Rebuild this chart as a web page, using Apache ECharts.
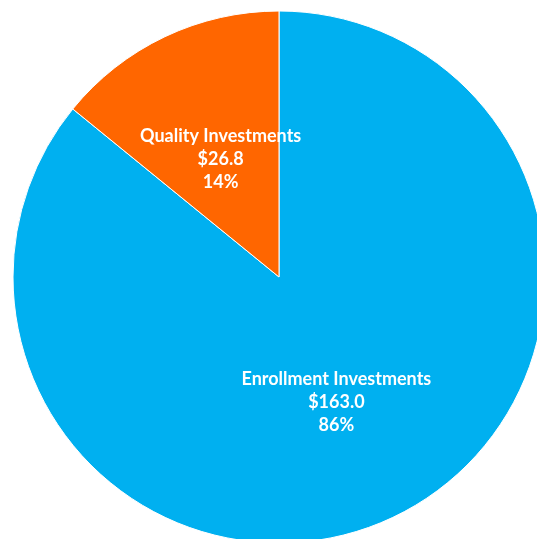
<!DOCTYPE html>
<html><head><meta charset="utf-8">
<script src="https://cdn.jsdelivr.net/npm/echarts@6/dist/echarts.min.js"></script>
<style>html,body{margin:0;padding:0;background:#fff}#c{width:537px;height:539px}</style>
</head><body><div id="c"></div>
<script>
const categories = ["Enrollment Investments", "Quality Investments"];
const values = [163.0, 26.8];
const percents = ["86%", "14%"];
const colors = ["#00B0F0", "#FF6600"];

const chart = echarts.init(document.getElementById('c'));
chart.setOption({
  animation: false,
  series: [{
    type: 'pie',
    center: [279, 277],
    radius: [0, 266],
    startAngle: 90,
    clockwise: true,
    avoidLabelOverlap: false,
    itemStyle: { borderColor: '#ffffff', borderWidth: 1 },
    label: {
      show: true,
      position: 'inside',
      color: '#ffffff',
      fontFamily: 'Lato',
      fontWeight: 'bold',
      fontSize: 18,
      lineHeight: 23,
      align: 'center',
      formatter: p => p.name + '\n$' + p.value.toFixed(1) + '\n' + percents[p.dataIndex]
    },
    labelLine: { show: false },
    data: categories.map((c, i) => ({
      name: c, value: values[i],
      itemStyle: { color: colors[i] },
      label: { offset: i === 1 ? [0, 5] : [-1, 2] }
    }))
  }]
});
</script></body></html>
